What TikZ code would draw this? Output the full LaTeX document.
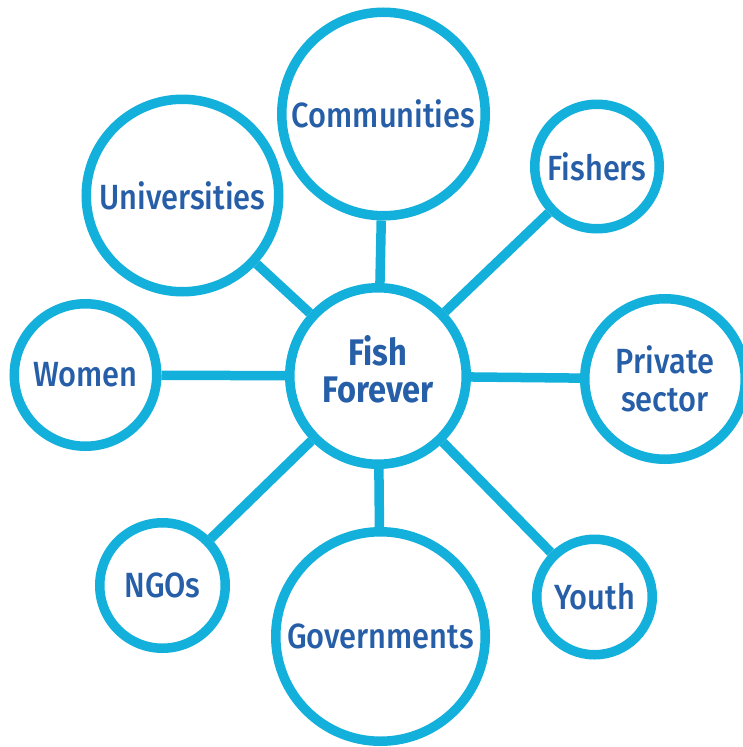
\documentclass[tikz,border=0pt]{standalone}
\usepackage{fontspec}
\setmainfont{Fira Sans}[UprightFont={* Medium}, BoldFont={* Bold}, FakeStretch=0.88]
\definecolor{ring}{RGB}{18,176,218}
\definecolor{txt}{RGB}{38,94,168}
\begin{document}
\begin{tikzpicture}[x=1pt,y=-1pt,
  hub/.style={circle, draw=ring, line width=9.5pt, fill=white, inner sep=0pt,
    text=txt, align=center, font=\fontsize{35}{38}\selectfont},
  link/.style={draw=ring, line width=9.5pt}]
\useasboundingbox (0,0) rectangle (742,747);
\node[hub, minimum size=176.5pt,
  label={[text=txt, align=center, font=\fontsize{37}{37}\selectfont\bfseries, yshift=7pt]center:Fish\\Forever}] (ff) at (378,376) {};
\node[hub, minimum size=203.5pt] (com) at (383.5,114) {Communities};
\node[hub, minimum size=124.5pt] (fis) at (597,166.5) {Fishers};
\node[hub, minimum size=192.5pt] (uni) at (182.5,195.5) {Universities};
\node[hub, minimum size=142.5pt] (wom) at (85.5,375) {Women};
\node[hub, minimum size=160.5pt] (pri) at (665,379) {Private\\sector};
\node[hub, minimum size=125.5pt] (ngo) at (162.5,585.5) {NGOs};
\node[hub, minimum size=209.5pt] (gov) at (380.5,636.5) {Governments};
\node[hub, minimum size=115.5pt] (you) at (594.5,597) {Youth};
\foreach \n in {com,fis,uni,wom,pri,ngo,gov,you}
  \draw[link] (ff) -- (\n);
\end{tikzpicture}
\end{document}
